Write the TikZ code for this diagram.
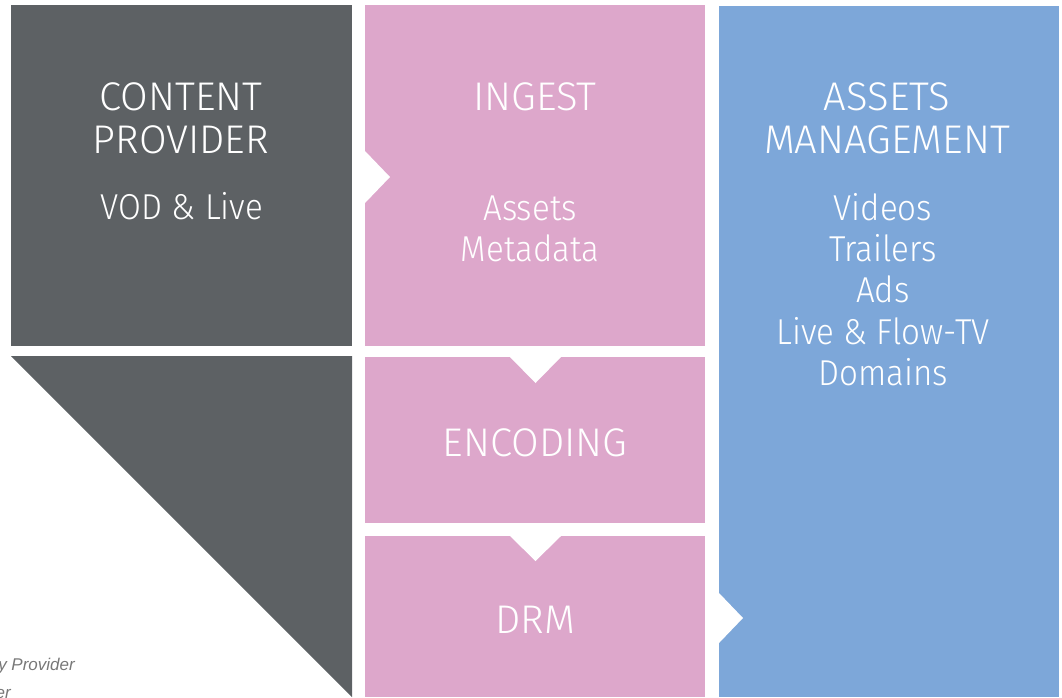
\documentclass[tikz,border=0pt]{standalone}
\usepackage{fontspec}
\setmainfont{Fira Sans}[UprightFont=* Light]
\newfontfamily\notefont{Liberation Sans}
\definecolor{cpgray}{RGB}{93,97,100}
\definecolor{ingpink}{RGB}{221,167,203}
\definecolor{amblue}{RGB}{125,167,217}
\definecolor{notegray}{RGB}{120,120,120}
\tikzset{
  lbl/.style={text=white, anchor=base, inner sep=0pt, font=\fontsize{40}{42}\selectfont},
  sublbl/.style={text=white, anchor=base, inner sep=0pt, xscale=0.92, font=\fontsize{36}{40}\selectfont},
  note/.style={text=notegray, anchor=base east, inner sep=0pt, font=\notefont\itshape\fontsize{17}{19}\selectfont},
  notch/.style={fill=white, draw=none}
}
\begin{document}
\begin{tikzpicture}[x=1pt,y=-1pt]
\useasboundingbox (0,0) rectangle (1062,697);
\clip (0,0) rectangle (1062,697);
% boxes
\fill[cpgray] (11,5) rectangle (352,346);
\fill[cpgray] (11,356) -- (352,356) -- (352,697) -- cycle;
\fill[ingpink] (365,5) rectangle (705,346);
\fill[ingpink] (365,357) rectangle (705,523);
\fill[ingpink] (365,536) rectangle (705,697);
\fill[amblue] (719,6) rectangle (1059,697);
% notches
\fill[notch] (365,151) -- (390,177) -- (365,203) -- cycle;
\fill[notch] (510,357) -- (561,357) -- (535.5,383) -- cycle;
\fill[notch] (510,536) -- (561,536) -- (535.5,561) -- cycle;
\fill[notch] (719,593) -- (743,618) -- (719,643) -- cycle;
% content provider
\node[lbl] (cp1) at (181,110) {CONTENT};
\node[lbl] (cp2) at (181,153) {PROVIDER};
\node[sublbl] (cp3) at (182,219) {VOD \& Live};
% ingest
\node[lbl] (in1) at (535,110) {INGEST};
\node[sublbl] (in2) at (530,220) {Assets};
\node[sublbl] (in3) at (530,261) {Metadata};
% encoding, drm
\node[lbl] (enc) at (535,456) {ENCODING};
\node[lbl] (drm) at (535,633) {DRM};
% assets management
\node[lbl] (am1) at (887,110) {ASSETS};
\node[lbl] (am2) at (887,153) {MANAGEMENT};
\node[sublbl] (am3) at (883,220) {Videos};
\node[sublbl] (am4) at (883,261) {Trailers};
\node[sublbl] (am5) at (883,302) {Ads};
\node[sublbl] (am6) at (883,344) {Live \& Flow-TV};
\node[sublbl] (am7) at (883,385) {Domains};
% cut-off notes
\node[note] (n1) at (75,670) {y Provider};
\node[note] (n2) at (11,698) {er};
\end{tikzpicture}
\end{document}
